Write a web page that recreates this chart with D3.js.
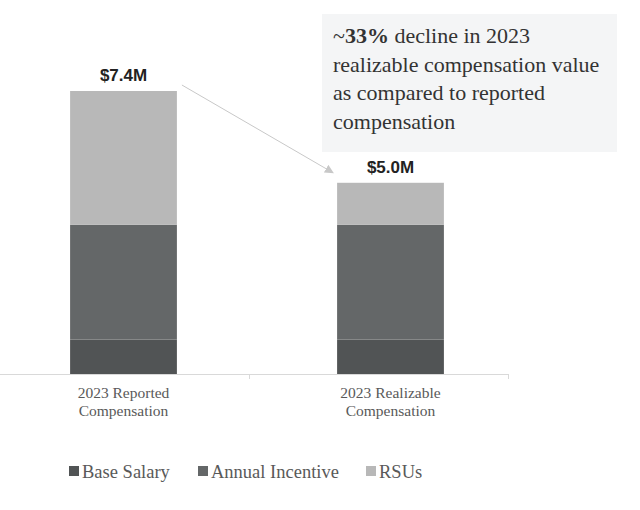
<!DOCTYPE html>
<html>
<head>
<meta charset="utf-8">
<script src="https://cdn.jsdelivr.net/npm/d3@7/dist/d3.min.js"></script>
<style>
  body { margin: 0; background: #fff; }
</style>
</head>
<body>
<div id="chart"></div>
<script>
// chart data
var categories = ["2023 Reported Compensation", "2023 Realizable Compensation"];
var categoryLines = [["2023 Reported", "Compensation"], ["2023 Realizable", "Compensation"]];
var seriesNames = ["Base Salary", "Annual Incentive", "RSUs"];
var baseSalary = [0.9, 0.9];
var annualIncentive = [3.0, 3.0];
var rsus = [3.5, 1.1];
var totalLabels = ["$7.4M", "$5.0M"];
var noteLines = [["~", "33%", " decline in 2023"], ["realizable compensation value"], ["as compared to reported"], ["compensation"]];

var width = 640, height = 510;
var baseline = 374;
var colors = ["#515455", "#646768", "#b8b8b8"];
var serif = "'Liberation Serif', 'Times New Roman', serif";
var sans = "'Liberation Sans', Arial, sans-serif";

var svg = d3.select("#chart").append("svg")
  .attr("width", width)
  .attr("height", height);

// build stack rows from the arrays
var rows = categories.map(function(c, i) {
  return { cat: c, "Base Salary": baseSalary[i], "Annual Incentive": annualIncentive[i], "RSUs": rsus[i] };
});
var stacked = d3.stack().keys(seriesNames)(rows);

var xScale = d3.scaleBand()
  .domain(categories)
  .range([-10, 524])
  .paddingInner(0.6)
  .paddingOuter(0.3);

var yScale = d3.scaleLinear()
  .domain([0, 7.4])
  .range([baseline, 91]);

// axis line
svg.append("line")
  .attr("x1", 0).attr("x2", 508)
  .attr("y1", baseline + 0.5).attr("y2", baseline + 0.5)
  .attr("stroke", "#d9d9d9");
// divider ticks
[249, 508].forEach(function(t) {
  svg.append("line")
    .attr("x1", t + 0.5).attr("x2", t + 0.5)
    .attr("y1", baseline).attr("y2", baseline + 5)
    .attr("stroke", "#d9d9d9");
});

// bars
svg.selectAll("g.series")
  .data(stacked)
  .enter().append("g")
  .attr("class", "series")
  .attr("fill", function(d, i) { return colors[i]; })
  .selectAll("rect")
  .data(function(d) { return d; })
  .enter().append("rect")
  .attr("x", function(d) { return xScale(d.data.cat); })
  .attr("width", xScale.bandwidth())
  .attr("y", function(d) { return yScale(d[1]); })
  .attr("height", function(d) { return yScale(d[0]) - yScale(d[1]); });

// totals on top
var totals = categories.map(function(c, i) { return baseSalary[i] + annualIncentive[i] + rsus[i]; });
svg.selectAll("text.total")
  .data(categories)
  .enter().append("text")
  .attr("class", "total")
  .attr("x", function(d) { return xScale(d) + xScale.bandwidth() / 2; })
  .attr("y", function(d, i) { return yScale(totals[i]) - 10; })
  .attr("text-anchor", "middle")
  .style("font-family", sans)
  .attr("font-weight", "bold")
  .attr("font-size", 17)
  .attr("fill", "#222")
  .text(function(d, i) { return totalLabels[i]; });

// category labels
categories.forEach(function(c, i) {
  var t = svg.append("text")
    .attr("x", xScale(c) + xScale.bandwidth() / 2)
    .attr("y", 398)
    .attr("text-anchor", "middle")
    .style("font-family", serif)
    .attr("font-size", 15.5)
    .attr("fill", "#595959");
  categoryLines[i].forEach(function(line, j) {
    t.append("tspan")
      .attr("x", xScale(c) + xScale.bandwidth() / 2)
      .attr("dy", j === 0 ? 0 : 18)
      .text(line);
  });
});

// annotation box
svg.append("rect")
  .attr("x", 322).attr("y", 14)
  .attr("width", 295).attr("height", 138)
  .attr("fill", "#f4f5f6");

var note = svg.append("text")
  .style("font-family", serif)
  .attr("font-size", 22)
  .attr("fill", "#333");
noteLines.forEach(function(parts, i) {
  var line = note.append("tspan")
    .attr("x", 333)
    .attr("y", 43 + i * 28.5);
  parts.forEach(function(p, k) {
    var s = k === 0 ? line : note.append("tspan");
    s.text(p);
    if (p === "33%") s.attr("font-weight", "bold");
  });
});

// arrow
svg.append("defs").append("marker")
  .attr("id", "arrowhead")
  .attr("viewBox", "0 0 10 10")
  .attr("refX", 9).attr("refY", 5)
  .attr("markerWidth", 9).attr("markerHeight", 9)
  .attr("markerUnits", "userSpaceOnUse")
  .attr("orient", "auto")
  .append("path")
  .attr("d", "M0,0 L10,5 L0,10 Z")
  .attr("fill", "#c8c8c8");

svg.append("line")
  .attr("x1", xScale(categories[0]) + xScale.bandwidth() + 5)
  .attr("y1", yScale(totals[0]) - 6)
  .attr("x2", xScale(categories[1]) - 4)
  .attr("y2", yScale(totals[1]) - 10)
  .attr("stroke", "#c8c8c8")
  .attr("stroke-width", 1)
  .attr("marker-end", "url(#arrowhead)");

// legend
var legendX = [69, 198, 366];
var legend = svg.selectAll("g.legend")
  .data(seriesNames)
  .enter().append("g")
  .attr("class", "legend")
  .attr("transform", function(d, i) { return "translate(" + legendX[i] + ",478)"; });
legend.append("rect")
  .attr("x", 0).attr("y", -12)
  .attr("width", 10).attr("height", 10)
  .attr("fill", function(d, i) { return colors[i]; });
legend.append("text")
  .attr("x", 13)
  .attr("y", 0)
  .style("font-family", serif)
  .attr("font-size", 18.5)
  .attr("fill", "#595959")
  .text(function(d) { return d; });
</script>
</body>
</html>
